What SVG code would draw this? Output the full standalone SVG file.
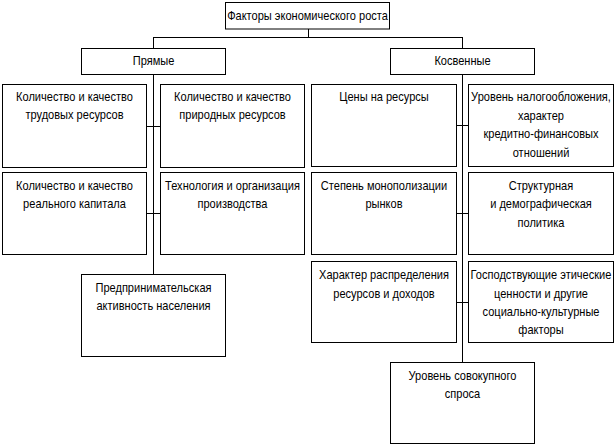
<svg xmlns="http://www.w3.org/2000/svg" width="615" height="445" viewBox="0 0 615 445">
<style>
rect{fill:#fff;stroke:#000;stroke-width:1}
.c{fill:none;stroke:#000;stroke-width:1}
text{font-family:"Liberation Sans",Arial,sans-serif;font-size:13px;fill:#000;text-anchor:middle}
</style>
<rect x="0" y="0" width="615" height="445" style="stroke:none"/>
<g id="connectors">
<path class="c" d="M308.5 29 V37.5 M153.5 37.5 H462.5 M153.5 37 V48 M462.5 37 V48"/>
<path class="c" d="M153.5 75 V274 M146.5 126.5 H160.5 M146.5 213.5 H160.5"/>
<path class="c" d="M462.5 75 V362 M456.5 125.5 H468.5 M456.5 213.5 H468.5 M456.5 302.5 H468.5"/>
</g>
<g id="n-root"><rect x="225.5" y="2.5" width="164" height="26.5"/>
<text transform="translate(307.5 0) scale(0.85 1)"><tspan x="0" y="20.5">Факторы экономического роста</tspan></text></g>
<g id="n-direct"><rect x="81.5" y="48.5" width="144" height="26"/>
<text transform="translate(153.5 0) scale(0.85 1)"><tspan x="0" y="65.5">Прямые</tspan></text></g>
<g id="n-indirect"><rect x="390.5" y="48.5" width="144" height="26"/>
<text transform="translate(462.5 0) scale(0.85 1)"><tspan x="0" y="65.5">Косвенные</tspan></text></g>
<g id="n-labour"><rect x="2.5" y="84.5" width="144" height="83"/>
<text transform="translate(74.5 0) scale(0.85 1)"><tspan x="0" y="101.5">Количество  и качество</tspan><tspan x="0" y="119.5">трудовых ресурсов</tspan></text></g>
<g id="n-natural"><rect x="160.5" y="84.5" width="144" height="83"/>
<text transform="translate(232.5 0) scale(0.85 1)"><tspan x="0" y="101.5">Количество и качество</tspan><tspan x="0" y="119.5">природных ресурсов</tspan></text></g>
<g id="n-capital"><rect x="2.5" y="172.5" width="144" height="82"/>
<text transform="translate(74.5 0) scale(0.85 1)"><tspan x="0" y="190">Количество и качество</tspan><tspan x="0" y="208.5">реального капитала</tspan></text></g>
<g id="n-tech"><rect x="160.5" y="172.5" width="144" height="82"/>
<text transform="translate(232.5 0) scale(0.85 1)"><tspan x="0" y="190">Технология и организация</tspan><tspan x="0" y="208.5">производства</tspan></text></g>
<g id="n-entrepreneur"><rect x="81.5" y="274.5" width="144" height="82"/>
<text transform="translate(153.5 0) scale(0.85 1)"><tspan x="0" y="292">Предпринимательская</tspan><tspan x="0" y="310">активность населения</tspan></text></g>
<g id="n-prices"><rect x="311.5" y="84.5" width="145" height="82"/>
<text transform="translate(384 0) scale(0.85 1)"><tspan x="0" y="101.5">Цены на ресурсы</tspan></text></g>
<g id="n-tax"><rect x="468.5" y="84.5" width="145" height="82"/>
<text transform="translate(541 0) scale(0.85 1)"><tspan x="0" y="101.5">Уровень налогообложения,</tspan><tspan x="0" y="119.8">характер</tspan><tspan x="0" y="138.2">кредитно-финансовых</tspan><tspan x="0" y="156.6">отношений</tspan></text></g>
<g id="n-monopoly"><rect x="311.5" y="172.5" width="145" height="82"/>
<text transform="translate(384 0) scale(0.85 1)"><tspan x="0" y="190">Степень монополизации</tspan><tspan x="0" y="208.5">рынков</tspan></text></g>
<g id="n-structural"><rect x="468.5" y="172.5" width="145" height="82"/>
<text transform="translate(541 0) scale(0.85 1)"><tspan x="0" y="190">Структурная</tspan><tspan x="0" y="208.5">и демографическая</tspan><tspan x="0" y="226.8">политика</tspan></text></g>
<g id="n-distribution"><rect x="311.5" y="261.5" width="145" height="81"/>
<text transform="translate(384 0) scale(0.85 1)"><tspan x="0" y="279.3">Характер распределения</tspan><tspan x="0" y="297.7">ресурсов и доходов</tspan></text></g>
<g id="n-ethics"><rect x="468.5" y="261.5" width="145" height="81"/>
<text transform="translate(541 0) scale(0.85 1)"><tspan x="0" y="279.3">Господствующие этические</tspan><tspan x="0" y="297.7">ценности и другие</tspan><tspan x="0" y="316">социально-культурные</tspan><tspan x="0" y="334.3">факторы</tspan></text></g>
<g id="n-demand"><rect x="390.5" y="362.5" width="144" height="81"/>
<text transform="translate(462.5 0) scale(0.85 1)"><tspan x="0" y="380.5">Уровень совокупного</tspan><tspan x="0" y="398.5">спроса</tspan></text></g>
</svg>
